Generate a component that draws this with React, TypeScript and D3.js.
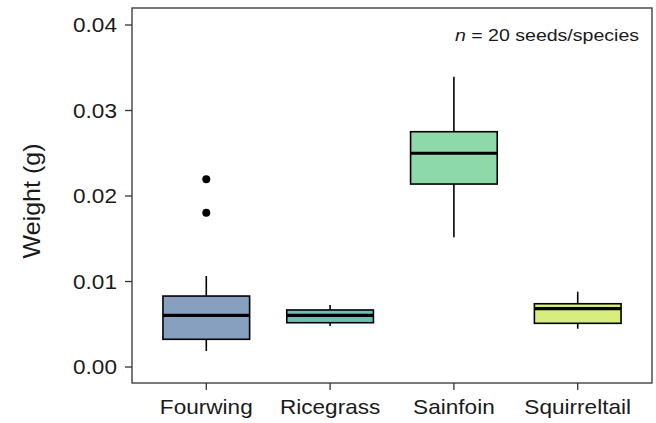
import React from "react";
import * as d3 from "d3";

const categories = ["Fourwing", "Ricegrass", "Sainfoin", "Squirreltail"];
const lowerWhisker = [0.00187, 0.0048, 0.01517, 0.00448];
const q1 = [0.00324, 0.00518, 0.0214, 0.00511];
const median = [0.00605, 0.00605, 0.025, 0.00682];
const q3 = [0.0083, 0.00667, 0.02752, 0.0074];
const upperWhisker = [0.01064, 0.00725, 0.03395, 0.00881];
const outliers: [string, number][] = [
  ["Fourwing", 0.02195],
  ["Fourwing", 0.01805],
];
const fills = ["#88A0BF", "#6CBFB2", "#8ED9A9", "#D7ED7D"];
const yTicks = [0, 0.01, 0.02, 0.03, 0.04];
const yTickLabels = ["0.00", "0.01", "0.02", "0.03", "0.04"];

const W = 656;
const H = 423;
const panel = { left: 132, right: 652, top: 8, bottom: 383 };
const FONT = "'Liberation Sans', Arial, sans-serif";
const SX = 1.13;

export default function App() {
  const y = d3
    .scaleLinear()
    .domain([-0.00187, 0.04199])
    .range([panel.bottom, panel.top]);
  const x = d3
    .scaleLinear()
    .domain([0.4, categories.length + 0.6])
    .range([panel.left, panel.right]);
  const unit = x(1) - x(0);
  const bw = 0.7 * unit;

  return (
    <svg
      width={W}
      height={H}
      style={{ position: "absolute", left: 0, top: 0, background: "#fff" }}
      fontFamily={FONT}
    >
      <rect x={0} y={0} width={W} height={H} fill="#fff" />
      {categories.map((c, i) => {
        const cx = x(i + 1);
        return (
          <g key={c}>
            <line x1={cx} x2={cx} y1={y(upperWhisker[i])} y2={y(q3[i])} stroke="#000" strokeWidth={1.6} />
            <line x1={cx} x2={cx} y1={y(q1[i])} y2={y(lowerWhisker[i])} stroke="#000" strokeWidth={1.6} />
            <rect
              x={cx - bw / 2}
              y={y(q3[i])}
              width={bw}
              height={y(q1[i]) - y(q3[i])}
              fill={fills[i]}
              stroke="#000"
              strokeWidth={1.6}
            />
            <line x1={cx - bw / 2} x2={cx + bw / 2} y1={y(median[i])} y2={y(median[i])} stroke="#000" strokeWidth={3.2} />
          </g>
        );
      })}
      {outliers.map(([c, v], k) => (
        <circle key={k} cx={x(categories.indexOf(c) + 1)} cy={y(v)} r={4} fill="#000" />
      ))}
      <rect
        x={panel.left}
        y={panel.top}
        width={panel.right - panel.left}
        height={panel.bottom - panel.top}
        fill="none"
        stroke="#333"
        strokeWidth={1.3}
      />
      {yTicks.map((t, i) => (
        <g key={t}>
          <line x1={panel.left - 7} x2={panel.left} y1={y(t)} y2={y(t)} stroke="#333" strokeWidth={1.3} />
          <g transform={`translate(${panel.left - 15},${y(t)}) scale(${SX},1)`}>
            <text textAnchor="end" dy="0.36em" fontSize={20} fill="#1a1a1a">
              {yTickLabels[i]}
            </text>
          </g>
        </g>
      ))}
      {categories.map((c, i) => (
        <g key={c}>
          <line x1={x(i + 1)} x2={x(i + 1)} y1={panel.bottom} y2={panel.bottom + 7} stroke="#333" strokeWidth={1.3} />
          <g transform={`translate(${x(i + 1)},414) scale(${SX},1)`}>
            <text textAnchor="middle" fontSize={20} fill="#1a1a1a">
              {c}
            </text>
          </g>
        </g>
      ))}
      <g transform={`translate(40,201) rotate(-90) scale(1.09,1)`}>
        <text textAnchor="middle" fontSize={23} fill="#1a1a1a">
          Weight (g)
        </text>
      </g>
      <g transform={`translate(639,41) scale(1.15,1)`}>
        <text textAnchor="end" fontSize={17} fill="#1a1a1a">
          <tspan fontStyle="italic">n</tspan> = 20 seeds/species
        </text>
      </g>
    </svg>
  );
}
